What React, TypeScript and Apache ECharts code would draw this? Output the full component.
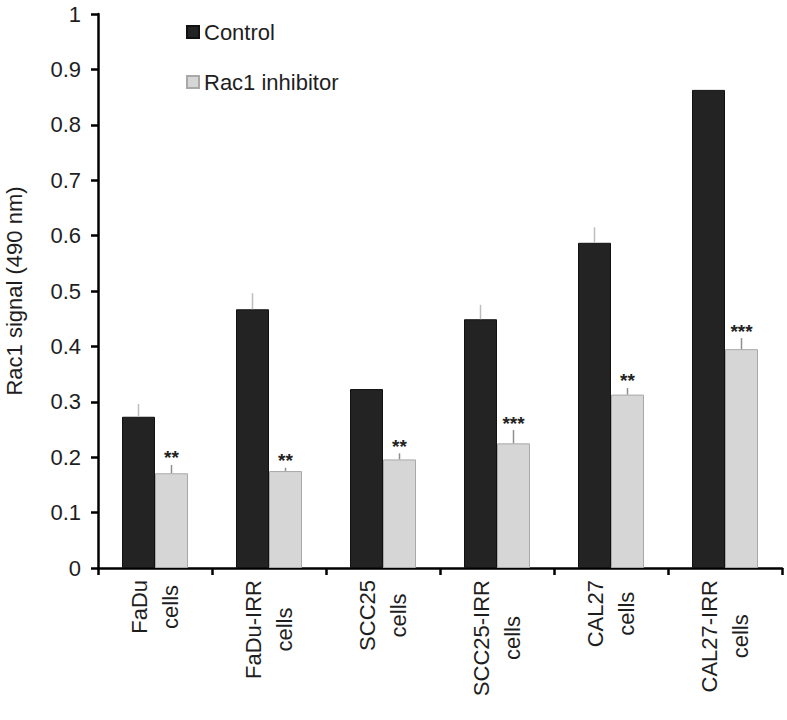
import React, { useEffect, useRef } from "react";
import * as echarts from "echarts";

const categories = ["FaDu", "FaDu-IRR", "SCC25", "SCC25-IRR", "CAL27", "CAL27-IRR"];
const secondLine = "cells";
const controlValues = [0.273, 0.467, 0.323, 0.449, 0.587, 0.863];
const controlErrors = [0.023, 0.029, 0, 0.026, 0.028, 0];
const inhibitorValues = [0.171, 0.175, 0.196, 0.225, 0.313, 0.395];
const inhibitorErrors = [0.015, 0.006, 0.011, 0.024, 0.012, 0.02];
const significance = ["**", "**", "**", "***", "**", "***"];
const seriesNames = ["Control", "Rac1 inhibitor"];

const FONT = "'Liberation Sans', Arial, Helvetica, sans-serif";
const TEXT = "#1e1e1e";
const BAR_W = 33;
const LABEL_SIZE = 22;

function measure(text: string): number {
  const canvas = document.createElement("canvas");
  const ctx = canvas.getContext("2d");
  if (!ctx) return text.length * LABEL_SIZE * 0.55;
  ctx.font = `${LABEL_SIZE}px ${FONT}`;
  return ctx.measureText(text).width;
}

export default function App() {
  const ref = useRef<HTMLDivElement>(null);

  useEffect(() => {
    if (!ref.current) return;
    const chart = echarts.init(ref.current, undefined, { renderer: "svg" });

    const errData: number[][] = [];
    categories.forEach((_, i) => {
      errData.push([i, controlValues[i], controlErrors[i], 0]);
      errData.push([i, inhibitorValues[i], inhibitorErrors[i], 1]);
    });

    // rich styles so that both lines of each label are centred on each other
    const rich: any = {};
    const wCells = measure(secondLine);
    categories.forEach((c, i) => {
      const w1 = measure(c);
      const padN = w1 < wCells ? (wCells - w1) / 2 : 0;
      const padC = wCells < w1 ? (w1 - wCells) / 2 : 0;
      const base = { fontSize: LABEL_SIZE, lineHeight: 31, fontFamily: FONT, color: TEXT };
      rich["n" + i] = { ...base, padding: [0, padN, 0, 0] };
      rich["c" + i] = { ...base, padding: [0, padC, 0, 0] };
    });

    const option: any = {
      animation: false,
      backgroundColor: "#ffffff",
      textStyle: { fontFamily: FONT },
      grid: {
        left: 98,
        right: 5,
        top: 14,
        bottom: 152,
        containLabel: false,
        outerBoundsMode: "none",
      },
      legend: {
        data: seriesNames,
        orient: "vertical",
        left: 181,
        top: 16,
        itemGap: 28,
        itemWidth: 12,
        itemHeight: 12,
        icon: "rect",
        textStyle: { fontSize: 22, color: TEXT, fontFamily: FONT },
      },
      xAxis: {
        type: "category",
        data: categories,
        boundaryGap: true,
        axisLine: { lineStyle: { color: "#000", width: 2.5 } },
        axisTick: { show: true, length: 7, lineStyle: { color: "#000", width: 2.5 } },
        axisLabel: {
          interval: 0,
          rotate: 90,
          margin: 12,
          formatter: (v: string, idx: number) => {
            const i = categories.indexOf(v) >= 0 ? categories.indexOf(v) : idx;
            return `{n${i}|${v}}\n{c${i}|${secondLine}}`;
          },
          rich,
        },
      },
      yAxis: {
        type: "value",
        min: 0,
        max: 1,
        interval: 0.1,
        name: "Rac1 signal (490 nm)",
        nameLocation: "middle",
        nameGap: 73,
        nameTextStyle: { fontSize: 22, color: TEXT, fontFamily: FONT },
        axisLine: { show: true, lineStyle: { color: "#000", width: 2.5 } },
        axisTick: { show: true, length: 7, lineStyle: { color: "#000", width: 2.5 } },
        axisLabel: { fontSize: 22, color: TEXT, margin: 17, fontFamily: FONT },
        splitLine: { show: false },
      },
      series: [
        {
          name: seriesNames[0],
          type: "bar",
          data: controlValues,
          barWidth: BAR_W,
          barGap: "0%",
          itemStyle: { color: "#232323", borderColor: "#111", borderWidth: 1 },
        },
        {
          name: seriesNames[1],
          type: "bar",
          data: inhibitorValues,
          barWidth: BAR_W,
          barGap: "0%",
          itemStyle: { color: "#d6d6d6", borderColor: "#a9a9a9", borderWidth: 1 },
        },
        {
          type: "custom",
          name: "errors",
          data: errData,
          z: 5,
          silent: true,
          renderItem: (params: any, api: any) => {
            const ci = api.value(0);
            const mean = api.value(1);
            const err = api.value(2);
            const which = api.value(3);
            const base = api.coord([ci, mean]);
            const x = base[0] + (which === 0 ? -BAR_W / 2 : BAR_W / 2);
            const topPt = api.coord([ci, mean + err]);
            const children: any[] = [];
            if (err > 0) {
              children.push({
                type: "line",
                shape: { x1: x, y1: base[1], x2: x, y2: topPt[1] },
                style: { stroke: which === 0 ? "#bdbdbd" : "#8f8f8f", lineWidth: 1.5 },
              });
            }
            if (which === 1) {
              children.push({
                type: "text",
                x: x,
                y: topPt[1] - 7,
                style: {
                  text: significance[ci],
                  fontSize: 19,
                  fontWeight: "bold",
                  fontFamily: FONT,
                  fill: "#222",
                  align: "center",
                  verticalAlign: "middle",
                },
              });
            }
            return { type: "group", children };
          },
        },
      ],
    };

    chart.setOption(option);
    return () => chart.dispose();
  }, []);

  return (
    <div
      ref={ref}
      style={{ position: "fixed", left: 0, top: 0, width: 787, height: 720, background: "#fff" }}
    />
  );
}
